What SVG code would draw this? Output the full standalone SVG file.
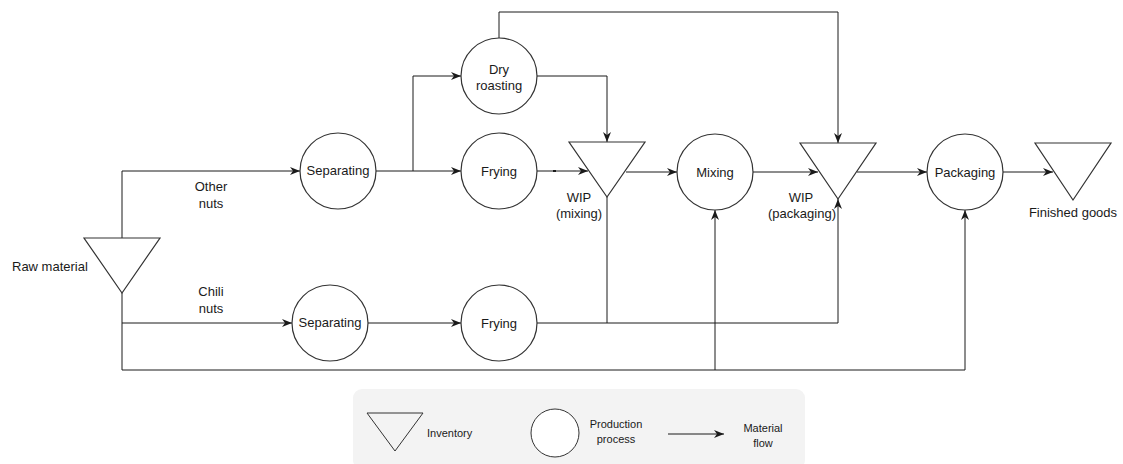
<svg xmlns="http://www.w3.org/2000/svg" width="1123" height="464" viewBox="0 0 1123 464">
  <style>
    .node { fill: #ffffff; stroke: #333333; stroke-width: 1.2; }
    .flow { fill: none; stroke: #1a1a1a; stroke-width: 1; }
    .arrow { marker-end: url(#head); }
    text { font-family: "Liberation Sans", Arial, sans-serif; font-size: 13px; fill: #1a1a1a; }
    .center { text-anchor: middle; }
    .legend-text { font-size: 11px; }
  </style>
  <defs>
    <marker id="head" viewBox="0 0 10 10" refX="10" refY="5" markerWidth="10" markerHeight="10" markerUnits="userSpaceOnUse" orient="auto">
      <path d="M0,1 L10,5 L0,9 L3,5 Z" fill="#1a1a1a"/>
    </marker>
  </defs>
  <rect width="1123" height="464" fill="#ffffff"/>

  <!-- connectors -->
  <g id="connectors">
    <!-- raw material to the separating steps -->
    <path class="flow arrow" d="M122,238 V171 H300"/>
    <path class="flow arrow" d="M122,293 V323 H292"/>
    <!-- bypass straight to mixing and packaging -->
    <path class="flow" d="M122,323 V370 H965"/>
    <path class="flow arrow" d="M965,370 V210"/>
    <path class="flow arrow" d="M715,370 V210"/>
    <!-- other nuts branch -->
    <path class="flow arrow" d="M376,171 H461"/>
    <path class="flow arrow" d="M413,171 V76 H461"/>
    <path class="flow arrow" d="M537,171 H588"/>
    <rect x="553" y="170" width="3" height="2" fill="#1a1a1a"/>
    <path class="flow arrow" d="M537,76 H607 V142"/>
    <path class="flow arrow" d="M499,38 V12 H838 V143"/>
    <!-- main line -->
    <path class="flow arrow" d="M626,172 H677"/>
    <path class="flow arrow" d="M753,172 H818"/>
    <path class="flow arrow" d="M857,172 H927"/>
    <path class="flow arrow" d="M1003,172 H1053"/>
    <!-- chili nuts branch -->
    <path class="flow arrow" d="M368,323 H461"/>
    <path class="flow" d="M607,197 V323"/>
    <path class="flow arrow" d="M537,323 H838 V199"/>
  </g>

  <!-- inventories -->
  <g id="raw-material">
    <polygon class="node" points="84,238 160,238 122,293"/>
    <text x="12" y="271">Raw material</text>
  </g>
  <g id="wip-mixing">
    <polygon class="node" points="569,142 645,142 607,197"/>
    <text class="center" x="579" y="202">WIP</text>
    <text class="center" x="579" y="218">(mixing)</text>
  </g>
  <g id="wip-packaging">
    <polygon class="node" points="800,143 876,143 838,199"/>
    <text class="center" x="801" y="202">WIP</text>
    <text class="center" x="802" y="218">(packaging)</text>
  </g>
  <g id="finished-goods">
    <polygon class="node" points="1035,143 1111,143 1073,200"/>
    <text class="center" x="1073" y="217">Finished goods</text>
  </g>

  <!-- production processes -->
  <g id="separating-other">
    <circle class="node" cx="338" cy="171" r="38"/>
    <text class="center" x="338" y="175">Separating</text>
  </g>
  <g id="dry-roasting">
    <circle class="node" cx="499" cy="76" r="38"/>
    <text class="center" x="499" y="74">Dry</text>
    <text class="center" x="499" y="90">roasting</text>
  </g>
  <g id="frying-other">
    <circle class="node" cx="499" cy="171" r="38"/>
    <text class="center" x="499" y="176">Frying</text>
  </g>
  <g id="mixing">
    <circle class="node" cx="715" cy="172" r="38"/>
    <text class="center" x="715" y="177">Mixing</text>
  </g>
  <g id="packaging">
    <circle class="node" cx="965" cy="172" r="38"/>
    <text class="center" x="965" y="177">Packaging</text>
  </g>
  <g id="separating-chili">
    <circle class="node" cx="330" cy="323" r="38"/>
    <text class="center" x="330" y="327">Separating</text>
  </g>
  <g id="frying-chili">
    <circle class="node" cx="499" cy="323" r="38"/>
    <text class="center" x="499" y="328">Frying</text>
  </g>

  <!-- branch labels -->
  <g id="labels">
    <text class="center" x="211" y="191">Other</text>
    <text class="center" x="211" y="208">nuts</text>
    <text class="center" x="211" y="296">Chili</text>
    <text class="center" x="211" y="313">nuts</text>
  </g>

  <!-- legend -->
  <g id="legend">
    <rect x="353" y="389" width="452" height="80" rx="9" fill="#f3f3f3"/>
    <polygon fill="none" stroke="#333333" stroke-width="1" points="367,413 423,413 395,451"/>
    <text class="legend-text" x="427" y="437">Inventory</text>
    <circle fill="#ffffff" stroke="#333333" stroke-width="1" cx="555" cy="433" r="24"/>
    <text class="legend-text center" x="616" y="428">Production</text>
    <text class="legend-text center" x="616" y="443">process</text>
    <path class="flow arrow" d="M668,434 H724"/>
    <text class="legend-text center" x="763" y="432">Material</text>
    <text class="legend-text center" x="763" y="447">flow</text>
  </g>
</svg>
